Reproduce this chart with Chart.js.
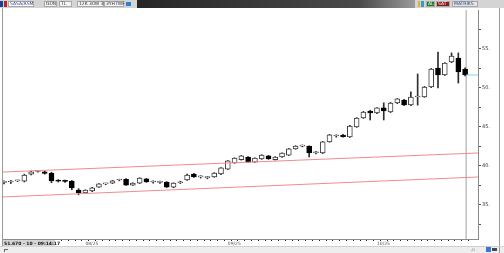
<!DOCTYPE html>
<html><head><meta charset="utf-8">
<script src="https://cdn.jsdelivr.net/npm/chart.js@4/dist/chart.umd.min.js"></script>
<style>html,body{margin:0;padding:0;background:#fff;overflow:hidden}canvas{display:block}</style>
</head><body>
<canvas id="c" width="504" height="253"></canvas>
<script>
// ---- data ----
const opens  = [37.90,37.95,38.10,38.05,38.95,39.30,39.25,39.10,38.10,38.05,38.05,36.90,36.55,36.80,37.30,37.70,37.80,38.20,38.30,37.55,37.80,38.35,37.95,37.90,37.95,37.30,37.85,38.20,38.95,38.60,38.50,38.60,38.97,39.60,40.40,40.80,41.15,40.50,40.90,41.30,40.80,41.15,41.40,42.20,42.55,42.55,41.70,41.67,43.10,43.85,43.97,43.72,45.00,46.15,47.05,46.80,47.45,46.92,48.08,48.46,47.82,48.85,48.85,50.13,52.56,51.67,53.33,53.85,52.44];
const highs  = [38.10,38.15,38.20,38.95,39.35,39.45,39.35,39.20,38.25,38.20,38.15,37.10,36.95,37.25,37.75,37.80,38.15,38.30,38.40,37.85,38.50,38.40,38.10,38.05,38.00,37.85,38.05,38.95,39.05,38.75,38.65,39.15,39.80,40.70,41.05,41.35,41.20,41.05,41.45,41.35,41.20,41.70,42.25,42.60,42.70,42.60,41.85,43.15,44.05,44.00,44.05,45.20,46.20,47.00,47.15,47.50,48.10,48.15,48.65,48.55,49.50,51.80,50.20,52.50,54.60,53.25,54.50,54.50,52.60];
const lows   = [37.70,37.75,38.00,37.95,38.85,39.20,38.95,37.85,37.95,37.90,36.95,36.30,36.45,36.70,37.25,37.60,37.75,38.10,37.50,37.50,37.75,37.90,37.80,37.75,37.25,37.20,37.75,38.15,38.55,38.45,38.35,38.55,38.90,39.55,40.35,40.75,40.45,40.45,40.85,40.85,40.75,41.10,41.35,42.15,42.45,41.15,41.55,41.60,43.05,43.70,43.70,43.65,44.95,46.10,45.90,46.70,45.90,46.85,48.00,47.75,47.75,47.80,48.80,50.05,50.00,51.60,53.25,50.64,51.55];
const closes = [37.95,38.00,38.12,38.85,39.25,39.35,39.05,38.10,38.07,38.02,37.20,36.55,36.90,37.20,37.70,37.72,38.10,38.22,37.55,37.80,38.45,37.95,37.97,37.92,37.30,37.80,37.95,38.85,38.60,38.62,38.52,39.10,39.75,40.65,41.00,41.30,40.50,41.00,41.40,40.90,41.15,41.65,42.20,42.55,42.57,41.67,41.72,43.10,44.00,43.87,43.75,45.13,46.15,46.92,46.80,47.45,47.05,48.08,48.60,47.82,48.85,48.90,50.13,52.44,51.67,53.20,54.10,52.05,51.67];
const monthTickIndex = [12, 33, 55];
const monthLabels    = ['08/25', '09/25', '10/25'];
const priceTicks     = [32.5, 35, 37.5, 40, 42.5, 45, 47.5, 50, 52.5, 55, 57.5];
const channelUpper   = [39.23, 41.67];
const channelLower   = [36.03, 38.59];
const lastPrice      = 51.67;
const cursorIndex    = 68.15;
const infoText       = '51.670 - 10 - 09:14:17';

// ---- scale extents ----
const X_MIN = -0.15, X_MAX = 69.9, Y_MIN = 30.64, Y_MAX = 60;

const FONT = 'DejaVu Sans';

const chrome = {
  id: 'chrome',
  beforeDraw(chart) {
    const ctx = chart.ctx;
    ctx.save();
    ctx.fillStyle = '#ffffff'; ctx.fillRect(0, 0, 504, 253);
    ctx.fillStyle = '#eeeeee'; ctx.fillRect(0, 247, 504, 6);
    ctx.restore();
  },
  afterDraw(chart) {
    const ctx = chart.ctx;
    ctx.save();
    const ln = (x1, y1, x2, y2, c) => { ctx.strokeStyle = c; ctx.lineWidth = 1; ctx.beginPath(); ctx.moveTo(x1, y1); ctx.lineTo(x2, y2); ctx.stroke(); };
    // frame
    ln(2.5, 8, 2.5, 247, '#9a9a9a');
    ln(499.5, 8, 499.5, 253, '#9a9a9a');
    ln(0, 246.5, 504, 246.5, '#d0d0d0');
    // toolbar
    ctx.fillStyle = '#d4d4d4'; ctx.fillRect(0, 0, 504, 8);
    const g = ctx.createLinearGradient(137, 0, 415, 0);
    g.addColorStop(0, '#262626'); g.addColorStop(0.8, '#4a4a4a'); g.addColorStop(1, '#9a9a9a');
    ctx.fillStyle = g; ctx.fillRect(137, 0, 278, 8);
    ctx.font = '4.5px ' + FONT; ctx.textBaseline = 'middle';
    const box = (x, w, txt, bg, fg) => {
      ctx.fillStyle = bg; ctx.fillRect(x, 1, w, 6);
      ctx.strokeStyle = '#a8a8a8'; ctx.strokeRect(x + 0.5, 1.5, w - 1, 5);
      ctx.fillStyle = fg; ctx.textAlign = 'left'; ctx.fillText(txt, x + 2, 4.2);
    };
    ctx.fillStyle = '#1c3f9a'; ctx.fillRect(0, 1, 3, 6);
    ctx.fillStyle = '#c02020'; ctx.fillRect(4, 1, 3, 6);
    box(8, 26, 'SASA/ASM', '#ffffff', '#2a3f8a');
    box(44, 13, 'GÜN', '#f4f4f4', '#333');
    box(59, 13, 'TL', '#f4f4f4', '#333');
    box(77, 27, '12K 30W 3W5', '#f4f4f4', '#333');
    box(104, 20, '3YH7WF', '#f4f4f4', '#333');
    ctx.fillStyle = '#2f7fd0'; ctx.fillRect(126, 2, 5, 4);
    ctx.fillStyle = '#e0b030'; ctx.fillRect(418, 1, 2, 6);
    ctx.fillStyle = '#30a0c0'; ctx.fillRect(421, 1, 3, 6);
    box(426, 9, 'AL', '#1f7a26', '#ffffff');
    box(436, 14, 'SAT', '#8c1a1a', '#ffffff');
    box(452, 26, 'MATRİKS', '#e4e4e4', '#2a3f8a');
    // info box bottom left
    ctx.fillStyle = '#d6d6d6'; ctx.fillRect(3, 240, 52, 7);
    ctx.fillStyle = '#111'; ctx.font = 'bold 4.5px ' + FONT; ctx.textAlign = 'left';
    ctx.fillText(infoText, 4, 243.8);
    ln(4, 249.5, 8, 249.5, '#666'); ln(4.5, 249, 4.5, 252, '#666');
    // bottom right icons
    ctx.fillStyle = '#3a78c8'; ctx.fillRect(486, 247, 5, 5);
    ctx.fillStyle = '#446'; ctx.fillRect(492, 248, 5, 3);
    ctx.fillStyle = '#777'; ctx.font = '4px ' + FONT; ctx.fillText('ﺎﻟـ', 471, 250);
    ctx.restore();
  }
};

const candleData = opens.map((o, i) => ({ x: i, y: [Math.min(o, closes[i]), Math.max(o, closes[i])] }));
const wickData = opens.map((o, i) => ({ x: i, y: [lows[i], highs[i]] }));
const up = opens.map((o, i) => closes[i] >= o);

new Chart(document.getElementById('c'), {
  type: 'bar',
  data: {
    datasets: [
      { type: 'line', data: [{ x: X_MIN, y: channelUpper[0] }, { x: X_MAX, y: channelUpper[1] }], borderColor: '#f08c8c', borderWidth: 1, pointRadius: 0, order: 1 },
      { type: 'line', data: [{ x: X_MIN, y: channelLower[0] }, { x: X_MAX, y: channelLower[1] }], borderColor: '#f08c8c', borderWidth: 1, pointRadius: 0, order: 1 },
      { type: 'line', data: [{ x: cursorIndex, y: lastPrice }, { x: X_MAX, y: lastPrice }], borderColor: '#7fd6e4', borderWidth: 1, pointRadius: 0, order: 1 },
      { type: 'line', data: [{ x: cursorIndex, y: Y_MIN }, { x: cursorIndex, y: Y_MAX }], borderColor: '#a0a0a0', borderWidth: 1, pointRadius: 0, order: 4 },
      { type: 'bar', data: candleData, grouped: false, barThickness: 5, minBarLength: 1,
        backgroundColor: up.map(u => u ? '#ffffff' : '#000000'),
        borderColor: up.map(u => u ? '#3c3c3c' : '#000000'),
        borderWidth: 1, borderSkipped: false, order: 2 },
      { type: 'bar', data: wickData, grouped: false, barThickness: 1, backgroundColor: '#2e2e2e', borderWidth: 0, order: 3 }
    ]
  },
  options: {
    responsive: false, animation: false, devicePixelRatio: 1,
    layout: { padding: { left: 3, top: 10, right: 0, bottom: 0 } },
    plugins: { legend: { display: false }, tooltip: { enabled: false } },
    scales: {
      x: {
        type: 'linear', min: X_MIN, max: X_MAX, offset: false,
        afterFit(s) { s.height = 14; },
        afterBuildTicks(s) { s.ticks = opens.map((_, i) => ({ value: i })); },
        grid: { drawOnChartArea: false, drawTicks: true, tickLength: 2, color: '#222', tickWidth: 1 },
        border: { display: true, color: '#8a8a8a' },
        ticks: { autoSkip: false, maxRotation: 0, minRotation: 0, align: 'start', padding: 0,
          font: { size: 4.5, family: FONT }, color: '#555',
          callback(v) { const k = monthTickIndex.indexOf(v); return k >= 0 ? monthLabels[k] : ''; } }
      },
      y: {
        type: 'linear', position: 'right', min: Y_MIN, max: Y_MAX,
        afterFit(s) { s.width = 26; },
        afterBuildTicks(s) { s.ticks = priceTicks.map(v => ({ value: v })); },
        grid: { drawOnChartArea: false, drawTicks: true, tickLength: 3, color: '#555', tickWidth: 1 },
        border: { display: true, color: '#8a8a8a' },
        ticks: { autoSkip: false, padding: 1, font: { size: 5, family: FONT }, color: '#333',
          callback(v) { return v % 5 === 0 ? v + '.' : ''; } }
      }
    }
  },
  plugins: [chrome]
});
</script>
</body></html>
